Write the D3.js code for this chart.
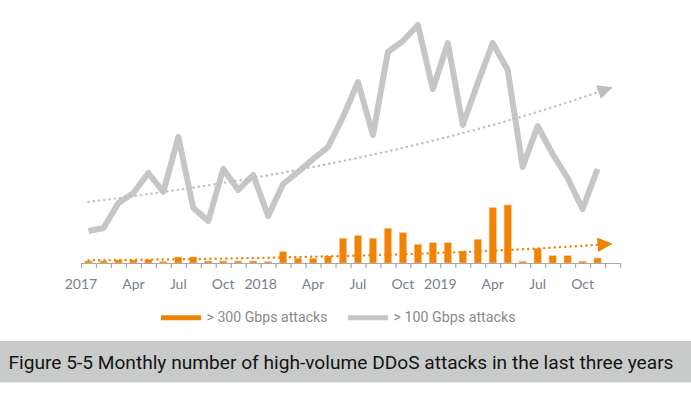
<!DOCTYPE html>
<html>
<head>
<meta charset="utf-8">
<script src="https://cdn.jsdelivr.net/npm/d3@7"></script>
<style>
  html, body { margin: 0; padding: 0; background: #fff; }
  svg { display: block; }
</style>
</head>
<body>
<svg id="chart" width="691" height="393"></svg>
<script>
// ---- data ----
const categories = [
  "2017-01","2017-02","2017-03","2017-04","2017-05","2017-06","2017-07","2017-08","2017-09","2017-10","2017-11","2017-12",
  "2018-01","2018-02","2018-03","2018-04","2018-05","2018-06","2018-07","2018-08","2018-09","2018-10","2018-11","2018-12",
  "2019-01","2019-02","2019-03","2019-04","2019-05","2019-06","2019-07","2019-08","2019-09","2019-10","2019-11","2019-12"
];
// > 300 Gbps attacks (bars), Jan 2017 - Nov 2019
const over300 = [2, 2, 3, 3, 3.3, 1.5, 6, 6, 2, 2, 2, 2,
                 1.3, 11.3, 4.7, 4.7, 7, 24.7, 27.3, 24.7, 34.7, 30.3, 18.7, 20.3,
                 20.3, 12, 23.7, 55.3, 58, 1.7, 14.7, 7.3, 7.3, 1.7, 5];
// > 100 Gbps attacks (line), Jan 2017 - Nov 2019
const over100 = [32, 35, 60, 70, 90, 71, 126, 55, 42, 94, 73, 88,
                 47, 79, 91, 104, 116, 146, 181, 128, 211, 222, 238, 174,
                 220, 138, 180, 220, 193, 96, 137, 109, 85, 54, 94];
const tickLabels   = ["2017", "Apr", "Jul", "Oct", "2018", "Apr", "Jul", "Oct", "2019", "Apr", "Jul", "Oct"];
const tickLabelIdx = [0, 3, 6, 9, 12, 15, 18, 21, 24, 27, 30, 33];
const seriesNames  = ["> 300 Gbps attacks", "> 100 Gbps attacks"];
const titleText = "Figure 5-5 Monthly number of high-volume DDoS attacks in the last three years";

// ---- styles ----
const ORANGE = "#f08400";
const GRAY = "#c5c7c6";
const GRAY_TREND = "#bcbebd";
const AXIS = "#a9a9a9";
const LABEL = "#77818c";

const svg = d3.select("#chart");
svg.append("rect").attr("width", 691).attr("height", 393).attr("fill", "#fff");

const x0 = 81, x1 = 620, yBase = 263, yTop = 13;
const xLin = d3.scaleLinear().domain([0, categories.length]).range([x0, x1]);
const xBand = d3.scaleBand().domain(categories).range([x0, x1]).paddingInner(0.52).paddingOuter(0.26);
const xc = i => xLin(i + 0.5);
const yLine = d3.scaleLinear().domain([0, 250]).range([yBase, yTop]);
const yBar = d3.scaleLinear().domain([0, 250]).range([yBase, yTop]);

// exponential trend (least squares on log values), forecast one period
function expFit(vals) {
  const n = vals.length;
  const xs = d3.range(n), ls = vals.map(v => Math.log(v));
  const mx = d3.mean(xs), ml = d3.mean(ls);
  let sxy = 0, sxx = 0;
  xs.forEach((xv, k) => { sxy += (xv - mx) * (ls[k] - ml); sxx += (xv - mx) * (xv - mx); });
  const b = sxy / sxx, a = ml - b * mx;
  return t => Math.exp(a + b * t);
}

const defs = svg.append("defs");
function arrow(id, color) {
  defs.append("marker")
    .attr("id", id).attr("markerUnits", "userSpaceOnUse")
    .attr("markerWidth", 16).attr("markerHeight", 15)
    .attr("refX", 15).attr("refY", 7.25).attr("orient", "auto")
    .append("path").attr("d", "M0,0 L15,7.25 L0,14.5 Z").attr("fill", color);
}
arrow("arrGray", GRAY_TREND);
arrow("arrOrange", ORANGE);

// bars
svg.append("g").selectAll("rect").data(over300).join("rect")
  .attr("x", (d, i) => xBand(categories[i]))
  .attr("width", xBand.bandwidth())
  .attr("y", d => yBar(d))
  .attr("height", d => yBase - yBar(d))
  .attr("fill", ORANGE)
  .attr("stroke", "#f8c09a").attr("stroke-width", 0.6);

// axis
const axis = d3.axisBottom(xLin).tickValues(d3.range(categories.length + 1))
  .tickFormat("").tickSize(5).tickSizeOuter(0);
const gAxis = svg.append("g").attr("transform", `translate(0,${yBase})`).call(axis);
gAxis.select(".domain").attr("stroke", AXIS).attr("stroke-width", 1.2);
gAxis.selectAll(".tick line").attr("stroke", AXIS).attr("stroke-width", 1.2);

// tick labels
svg.append("g").selectAll("text").data(tickLabels).join("text")
  .attr("x", (d, k) => /^\d{4}$/.test(d) ? xLin(tickLabelIdx[k]) : xc(tickLabelIdx[k]))
  .attr("y", 289)
  .attr("text-anchor", "middle")
  .attr("font-family", "Lato, 'Open Sans', sans-serif")
  .attr("font-size", 14)
  .attr("fill", LABEL)
  .text(d => d);

// gray line
const line = d3.line().x((d, i) => xc(i)).y(d => yLine(d)).curve(d3.curveLinear);
svg.append("path").datum(over100)
  .attr("d", line).attr("fill", "none")
  .attr("stroke", GRAY).attr("stroke-width", 6)
  .attr("stroke-linejoin", "round").attr("stroke-linecap", "butt");

// trend lines
const tEnd = over100.length; // forecast one period
const ts = d3.range(0, tEnd + 0.001, 0.25);
const trendGray = expFit(over100), trendOrange = expFit(over300);
const tline = (f, sc) => d3.line().x(t => xc(t)).y(t => sc(f(t)));

function trendPath(f, sc, color, marker) {
  svg.append("path").datum(ts)
    .attr("d", tline(f, sc)).attr("fill", "none")
    .attr("stroke", color).attr("stroke-width", 2.4)
    .attr("stroke-linecap", "round").attr("stroke-dasharray", "0.1 5.2")
    .attr("marker-end", `url(#${marker})`);
}
trendPath(trendGray, yLine, GRAY_TREND, "arrGray");
trendPath(trendOrange, yBar, ORANGE, "arrOrange");

// legend
const lg = svg.append("g").attr("font-family", "Roboto, sans-serif").attr("font-size", 14).attr("fill", "#8a8a8a");
lg.append("line").attr("x1", 161).attr("x2", 201).attr("y1", 317.7).attr("y2", 317.7)
  .attr("stroke", ORANGE).attr("stroke-width", 5);
lg.append("text").attr("x", 206.5).attr("y", 322).attr("textLength", 121).attr("lengthAdjust", "spacingAndGlyphs").text(seriesNames[0]);
lg.append("line").attr("x1", 348).attr("x2", 388).attr("y1", 317.7).attr("y2", 317.7)
  .attr("stroke", GRAY).attr("stroke-width", 5);
lg.append("text").attr("x", 393.5).attr("y", 322).attr("textLength", 122).attr("lengthAdjust", "spacingAndGlyphs").text(seriesNames[1]);

// title banner
svg.append("rect").attr("x", 0).attr("y", 341).attr("width", 691).attr("height", 41.5).attr("fill", "#c9cbca");
svg.append("text").attr("x", 8.5).attr("y", 368.5)
  .attr("font-family", "'Liberation Sans Narrow', Roboto, sans-serif")
  .attr("font-size", 19).attr("fill", "#141414")
  .attr("textLength", 665).attr("lengthAdjust", "spacingAndGlyphs")
  .text(titleText);
</script>
</body>
</html>
